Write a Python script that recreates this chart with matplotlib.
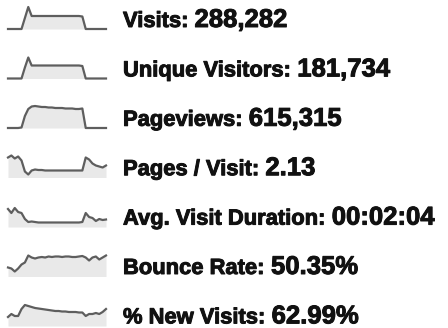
import matplotlib
matplotlib.use('Agg')
import matplotlib.pyplot as plt
import matplotlib.patheffects as pe
import numpy as np

# labels and values
labels = ['Visits:', 'Unique Visitors:', 'Pageviews:', 'Pages / Visit:',
          'Avg. Visit Duration:', 'Bounce Rate:', '% New Visits:']
values = ['288,282', '181,734', '615,315', '2.13', '00:02:04', '50.35%', '62.99%']

# sparkline heights (pixels above fill bottom), 30 points each
visits = [0, 0, 0, 0, 0, 11, 22, 13, 13, 13, 13, 13, 13, 13, 13, 13, 13, 13, 13, 13,
          13, 13, 12.5, 0, 0, 0, 0, 0, 0, 0]
unique = [0, 0, 0, 0, 0, 11, 21, 13, 13, 13, 13, 13, 13, 13, 13, 13, 13, 13, 13, 13,
          13, 13, 12.5, 0, 0, 0, 0, 0, 0, 0]
pageviews = [0, 0, 0, 0, 0.5, 12, 19, 21.5, 22, 21.5, 21, 21, 20.5, 20.5, 20, 20, 20, 19.5,
             19.5, 19.5, 19, 19, 19.5, 0, 0, 0, 0, 0, 0, 0]
pages_visit = [20, 22, 19, 21, 17, 6, 3, 7, 8, 7.5, 7.5, 7, 7, 7, 7, 7, 7, 7, 7, 7,
               7, 7, 7, 20, 18, 14, 12, 11, 10, 12]
duration = [18, 14, 19, 15, 14, 8, 5, 5.5, 5, 4.5, 4.5, 4.5, 4.5, 4.5, 4.5, 4.5, 4.5, 4.5,
            4.5, 4.5, 4.5, 4.5, 5, 14, 10, 9, 6, 8, 7, 7.5]
bounce = [9, 8, 5, 8, 12, 14, 21, 19, 18, 19, 19.5, 19, 20, 19.5, 20, 20, 19.5, 20, 20,
          19.5, 19.5, 20, 20.5, 19, 16, 19, 20, 17, 19, 21]
new_visits = [9, 12, 10, 10, 17, 21, 20, 19, 18, 17.5, 17, 16.5, 16, 15.5, 15, 15, 14.5,
              14.5, 14, 14, 14, 13.5, 13.5, 10, 12, 12, 13, 12, 14, 17]
series = [visits, unique, pageviews, pages_visit, duration, bounce, new_visits]

W, H = 448, 328
fig = plt.figure(figsize=(W / 100, H / 100), dpi=100)
fig.patch.set_facecolor('white')

font = 'Liberation Sans'
ink = '#111111'
bold_fx = [pe.withStroke(linewidth=0.7, foreground=ink)]
renderer = fig.canvas.get_renderer()

for i, (lab, val, s) in enumerate(zip(labels, values, series)):
    base = 27 + 49.4 * i          # text baseline, px from top
    fill_bottom = 29 + 49.5 * i   # sparkline bottom, px from top
    ax = fig.add_axes([8 / W, 1 - fill_bottom / H, 98 / W, 26 / H])
    x = np.arange(len(s))
    ax.fill_between(x, s, 0, color='#e9e9e9', lw=0)
    ax.plot(x, s, color='#5e5e5e', lw=1.6, clip_on=False, solid_joinstyle='round')
    ax.set_xlim(0, len(s) - 1)
    ax.set_ylim(0, 26)
    ax.axis('off')

    t = fig.text(123 / W, 1 - base / H, lab, fontsize=15.8, fontweight='bold',
                 family=font, va='baseline', ha='left', color=ink, path_effects=bold_fx)
    bb = t.get_window_extent(renderer)
    fig.text(bb.x1 / W + 6 / W, 1 - base / H, val, fontsize=18.5, fontweight='bold',
             family=font, va='baseline', ha='left', color=ink, path_effects=bold_fx)

fig.savefig('out.png', dpi=100)
